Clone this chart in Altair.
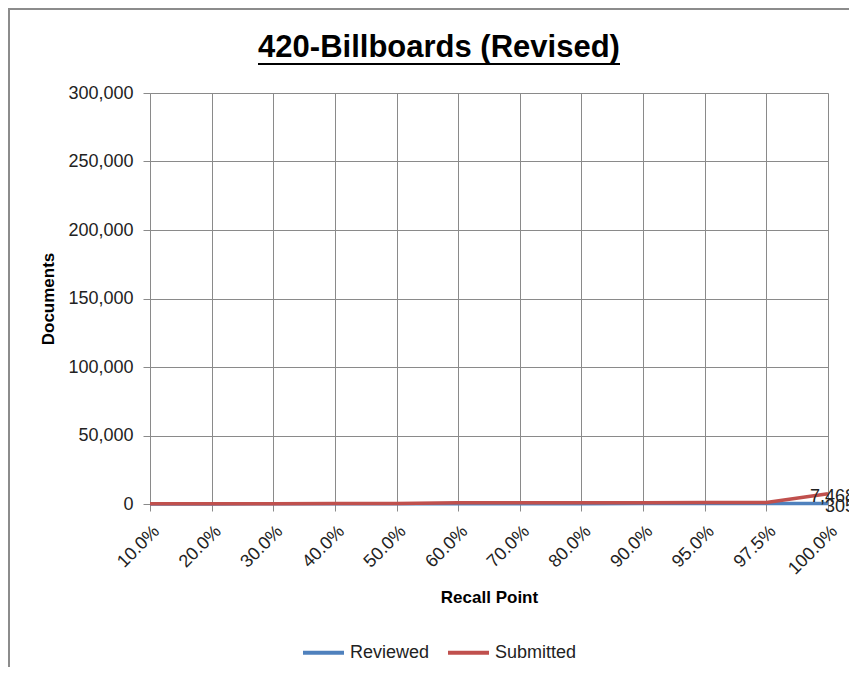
import altair as alt
import pandas as pd

categories = ["10.0%", "20.0%", "30.0%", "40.0%", "50.0%", "60.0%",
              "70.0%", "80.0%", "90.0%", "95.0%", "97.5%", "100.0%"]
reviewed = [60, 90, 120, 150, 180, 230, 250, 270, 280, 290, 300, 305]
submitted = [150, 200, 250, 300, 350, 900, 930, 960, 990, 1010, 1030, 7468]
series_names = ["Reviewed", "Submitted"]
series_colors = ["#4F81BD", "#C0504D"]
y_ticks = [0, 50000, 100000, 150000, 200000, 250000, 300000]
chart_title = "420-Billboards (Revised)"

rows = []
for name, vals in zip(series_names, [reviewed, submitted]):
    for c, v in zip(categories, vals):
        rows.append({"Recall Point": c, "Series": name, "Documents": v})
df = pd.DataFrame(rows)
one = pd.DataFrame({"t": [chart_title]})

FONT = "Liberation Sans"
GRID = "#8a8a8a"

x_enc = alt.X("Recall Point:N", sort=categories,
              scale=alt.Scale(type="point", padding=0),
              axis=alt.Axis(title="Recall Point", labelAngle=-45, labelFontSize=18,
                            labelFont=FONT, labelColor="#222", tickSize=7, tickColor=GRID,
                            domainColor=GRID, grid=True, gridColor=GRID, labelPadding=11,
                            titleFont=FONT, titleFontSize=17, titleFontWeight="bold",
                            titlePadding=12, titleColor="#000"))
y_enc = alt.Y("Documents:Q", scale=alt.Scale(domain=[0, 300000], nice=False),
              axis=alt.Axis(title="Documents", values=y_ticks, format=",.0f",
                            labelFontSize=18, labelFont=FONT, labelColor="#222",
                            tickSize=7, tickColor=GRID, domainColor=GRID,
                            grid=True, gridColor=GRID, labelPadding=10,
                            titleFont=FONT, titleFontSize=17, titleFontWeight="bold",
                            titlePadding=10, titleColor="#000"))

color_enc = alt.Color("Series:N",
                      scale=alt.Scale(domain=series_names, range=series_colors),
                      legend=alt.Legend(title=None, orient="none", direction="horizontal",
                                        legendX=151, legendY=537, symbolType="stroke",
                                        symbolSize=1681, symbolStrokeWidth=4,
                                        labelFontSize=18, labelFont=FONT, labelColor="#222",
                                        labelOffset=4, columnPadding=10, padding=0))

lines = alt.Chart(df).mark_line(strokeWidth=3.5).encode(
    x=x_enc, y=y_enc, color=color_enc, order=alt.Order("Series:N"))

labels = alt.Chart(df).transform_filter(
    alt.datum["Recall Point"] == categories[-1]
).mark_text(align="right", baseline="middle", dx=27, dy=3, fontSize=18, font=FONT,
            color="#222").encode(
    x=alt.X("Recall Point:N", sort=categories), y="Documents:Q",
    text=alt.Text("Documents:Q", format=",.0f"))

title_text = alt.Chart(one).mark_text(font=FONT, fontSize=31, fontWeight="bold",
                                      color="#000", align="center",
                                      baseline="alphabetic").encode(
    text="t:N", x=alt.value(289), y=alt.value(-36))

underline = alt.Chart(one).mark_rule(color="#000", strokeWidth=2).encode(
    x=alt.value(108), x2=alt.value(470), y=alt.value(-29))

border = alt.Chart(one).mark_rect(fillOpacity=0, stroke="#8c8c8c", strokeWidth=2).encode(
    x=alt.value(-141), x2=alt.value(760), y=alt.value(-84), y2=alt.value(700))

chart = alt.layer(border, lines, labels, title_text, underline).properties(
    width=678, height=411,
    autosize=alt.AutoSizeParams(type="none"),
    padding={"left": 142, "top": 85, "right": 21, "bottom": 163},
).configure_view(strokeWidth=0).configure(background="white")

chart.save("out.html", embed_options={"renderer": "svg", "actions": False})
